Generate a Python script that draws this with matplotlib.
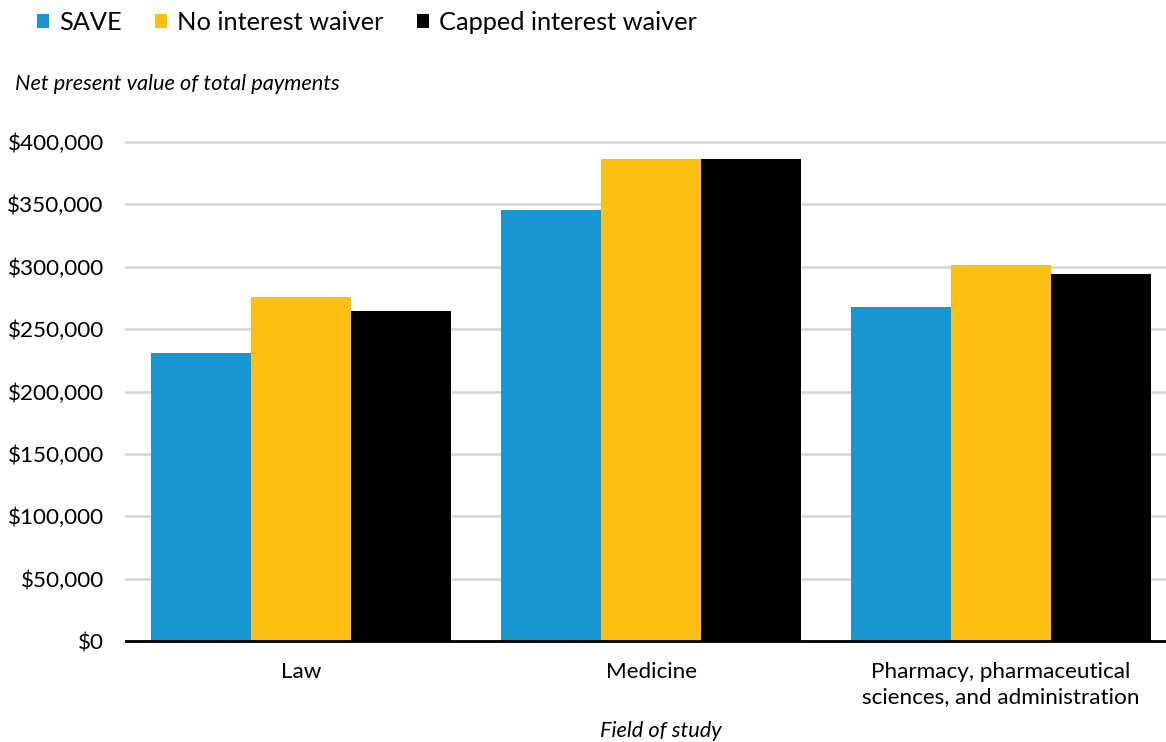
import matplotlib.pyplot as plt
import numpy as np
from matplotlib.ticker import FuncFormatter

plt.rcParams['font.family'] = ['Lato', 'DejaVu Sans']

fields = ['Law', 'Medicine', 'Pharmacy, pharmaceutical\nsciences, and administration']
series = ['SAVE', 'No interest waiver', 'Capped interest waiver']
save = [231000, 345500, 267500]
no_waiver = [275800, 386400, 301500]
capped = [264500, 386400, 294200]
colors = ['#1696d2', '#fdbf11', '#000000']

fig = plt.figure(figsize=(11.66, 7.42), dpi=100)
ax = fig.add_axes([126 / 1166, 1 - 641 / 742, 1 - 126 / 1166, (641 - 142) / 742])

x = np.arange(len(fields))
w = 2 / 7
for i, (vals, lab) in enumerate(zip([save, no_waiver, capped], series)):
    ax.bar(x + (i - 1) * w, vals, width=w, color=colors[i], label=lab,
           edgecolor='none', zorder=3)

ax.set_xlim(-0.5, 2.471)
ax.set_ylim(0, 400000)
ax.set_yticks(np.arange(0, 400001, 50000))
ax.yaxis.set_major_formatter(FuncFormatter(lambda v, p: f'${v:,.0f}'))
ax.grid(axis='y', color='#d9d9d9', linewidth=2, zorder=0)
for gl in ax.get_ygridlines():
    gl.set_clip_on(False)
ax.set_xticks(x)
ax.set_xticklabels(fields, fontsize=16.2, linespacing=1.3)
ax.tick_params(axis='both', length=0, labelsize=16.2)
ax.tick_params(axis='x', pad=15)
ax.tick_params(axis='y', pad=16)

for s in ['top', 'right', 'left']:
    ax.spines[s].set_visible(False)
ax.spines['bottom'].set_linewidth(2)
ax.spines['bottom'].set_zorder(4)

fig.text(15 / 1166, 1 - 84 / 742, 'Net present value of total payments',
         fontsize=15.7, style='italic', va='center', ha='left')
fig.text(661 / 1166, 1 - 731 / 742, 'Field of study',
         fontsize=15.7, style='italic', va='center', ha='center')

handles, labels = ax.get_legend_handles_labels()
fig.legend(handles, labels, loc='upper left', bbox_to_anchor=(0.012, 1.016),
           ncol=3, frameon=False, fontsize=18.3, handlelength=0.48,
           handleheight=0.48, handletextpad=0.4, columnspacing=1.3)

fig.savefig('out.png', dpi=100)
